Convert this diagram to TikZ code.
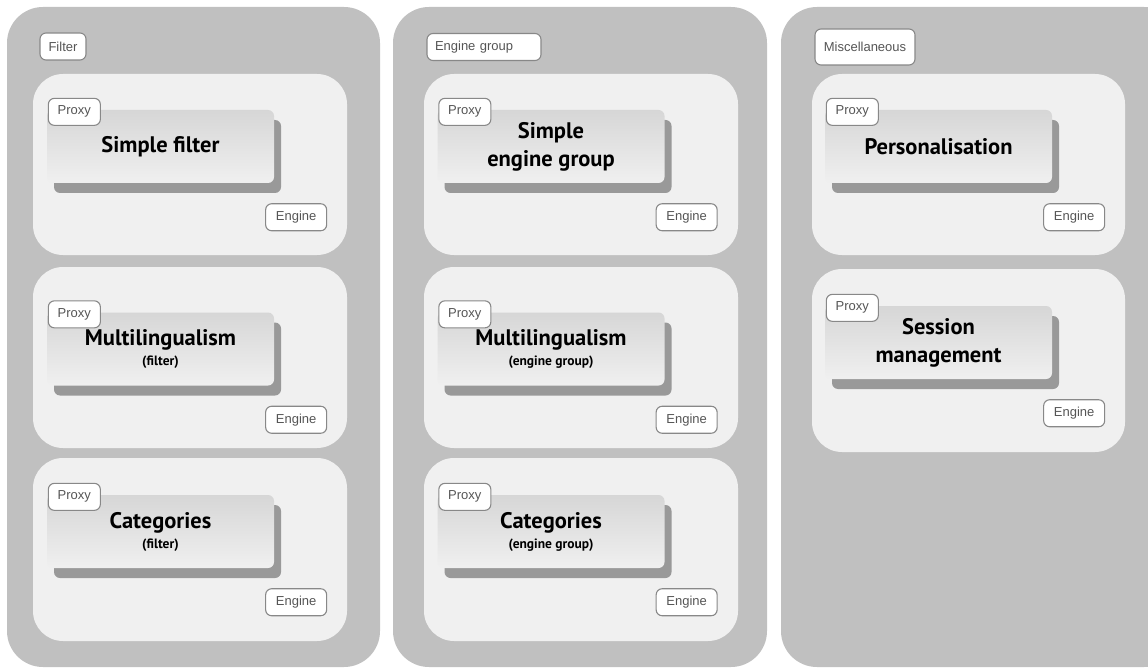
\documentclass[tikz,border=0pt]{standalone}
\usepackage{fontspec}
\setmainfont{Liberation Sans}
\newfontfamily\modfont{PT Sans}
\usetikzlibrary{positioning,shadows,calc}

\definecolor{colbg}{HTML}{C0C0C0}
\definecolor{panelbg}{HTML}{F0F0F0}
\definecolor{shadowgray}{HTML}{999999}
\definecolor{tagline}{HTML}{888888}
\definecolor{tagtext}{HTML}{555555}

\tikzset{
  column/.style={fill=colbg, rounded corners=36pt},
  panel/.style={fill=panelbg, rounded corners=30pt},
  module/.style={top color=gray!32, bottom color=gray!12, rounded corners=6pt,
    minimum width=227pt, minimum height=73pt, inner sep=0pt, align=center,
    font=\modfont\bfseries\fontsize{22.5}{28}\selectfont,
    drop shadow={shadow xshift=7pt, shadow yshift=-10pt, fill=shadowgray, opacity=1}},
  tag/.style={draw=tagline, line width=1.1pt, fill=white, rounded corners=6pt, text=tagtext,
    font=\fontsize{13}{15}\selectfont, inner sep=0pt, minimum height=27pt},
  proxy/.style={tag, minimum width=52pt, anchor=north west},
  engine/.style={tag, minimum width=61pt, anchor=north east}
}

\begin{document}
\begin{tikzpicture}[x=1pt, y=-1pt]
    \useasboundingbox (0,0) rectangle (1148,671);

    % three columns
    \fill[column] (7,7) rectangle (380,667);
    \fill[column] (393,7) rectangle (767,667);
    \begin{scope}
      \clip (0,0) rectangle (1148,671);
      \fill[column] (781,7) rectangle (1180,667);
    \end{scope}

    % panels
    \foreach \x in {33,424} {
      \fill[panel] (\x,74) rectangle ++(314,181);
      \fill[panel] (\x,267) rectangle ++(314,181);
      \fill[panel] (\x,458) rectangle ++(314,183);
    }
    \fill[panel] (812,74) rectangle (1125,255);
    \fill[panel] (812,269) rectangle (1125,452);

    % column titles
    \node[tag, minimum width=46pt] (filter) at (63,46.5) {Filter};
    \node[tag, text width=98pt, inner xsep=8pt, align=left] (engine group) at (484,47) {Engine group};
    \node[tag, minimum width=100pt, minimum height=36pt] (misc) at (865,47) {Miscellaneous};

    % modules
    \node[module] (simple filter) at (160.5,146.5) {Simple filter};
    \node[module] (multi filter) at (160.5,349) {Multilingualism\\[-8pt]{\fontsize{13.5}{15}\selectfont(filter)}};
    \node[module] (cat filter) at (160.5,531.5) {Categories\\[-8pt]{\fontsize{13.5}{15}\selectfont(filter)}};
    \node[module] (simple group) at (551,146.5) {Simple\\engine group};
    \node[module] (multi group) at (551,349) {Multilingualism\\[-8pt]{\fontsize{13.5}{15}\selectfont(engine group)}};
    \node[module] (cat group) at (551,531.5) {Categories\\[-8pt]{\fontsize{13.5}{15}\selectfont(engine group)}};
    \node[module] (personal) at (938.5,146.5) {Personalisation};
    \node[module] (session) at (938.5,342.5) {Session\\management};

    % proxy and engine tags
    \foreach \m in {simple filter,multi filter,cat filter,simple group,multi group,cat group,personal,session} {
      \node[proxy] (\m-proxy) at ([shift={(1,-12)}]\m.north west) {Proxy};
      \node[engine] (\m-engine) at ([shift={(53,20)}]\m.south east) {Engine};
    }
\end{tikzpicture}
\end{document}
